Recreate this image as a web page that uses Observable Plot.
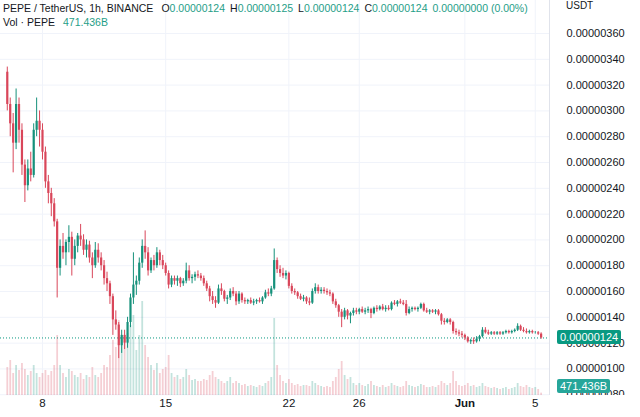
<!DOCTYPE html>
<html><head><meta charset="utf-8">
<script src="https://cdn.jsdelivr.net/npm/d3@7"></script>
<script src="https://cdn.jsdelivr.net/npm/@observablehq/plot@0.6"></script>
<style>
body{margin:0;background:#fff;}
#wrap{position:relative;width:640px;height:417px;overflow:hidden;font-family:"Liberation Sans",Arial,sans-serif;color:#131722;}
#legend{position:absolute;left:3px;top:1px;font-size:10.5px;line-height:14px;white-space:nowrap;}
#legend .g{margin-left:5px}
#legend .s{margin-left:8px}
.v{color:#1f9e88}
.tag{position:absolute;color:#fff;font-size:11px;padding:0 3px;border-radius:2px;}
#usdt{position:absolute;left:566px;top:0px;font-size:10px;line-height:11px;}
#cover{position:absolute;left:550px;top:395px;width:90px;height:22px;background:#fff;}
</style></head><body>
<div id="wrap"><div id="chart"></div>
<div id="legend"></div>
<div id="usdt">USDT</div>
<div id="cover"></div>
</div>
<script>
// ---- data (prices in units of 1e-8 USDT, 4-hour candles starting 2023-05-06 00:00 UTC) ----
const startTime = "2023-05-06T00:00:00Z";
const opens = [330,305,290,275,305,285, 258,242,255,250,285,292, 285,268,245,236,228,214, 178,195,190,198,202,185, 195,203,200,192,196,186, 180,192,186,180,170,166,
 156,138,134,118,126,120, 136,155,165,168,182,195, 190,176,184,180,190,184, 180,174,165,170,168,170, 166,168,176,170,171,173, 172,170,166,162,156,153,
 151,162,160,154,155,160, 158,152,158,153,152,153, 151,152,153,152,155,159, 158,162,184,177,174,172, 174,164,160,159,156,154, 155,152,151,160,163,160,
 161,160,159,158,152,149, 144,140,145,141,143,145, 144,146,144,145,146,143, 147,146,148,146,147,146, 151,150,152,151,150,143, 146,147,146,147,150,145,
 144,145,144,145,142,137, 136,138,136,129,128,127, 126,124,121,122,121,123, 125,130,128,127,128,127, 128,127,128,129,128,129, 130,133,130,129,128,129, 128,128,127];
const highs = [334,310,298,317,310,290, 262,262,268,290,310,300, 290,272,250,240,232,216, 200,205,200,211,206,200, 205,212,204,200,199,190, 198,197,190,184,175,168,
 158,145,136,130,130,140, 158,190,172,186,200,207, 194,186,188,194,192,188, 182,176,172,172,172,171, 170,182,180,173,175,176, 174,172,168,164,160,156,
 165,166,161,157,162,163, 160,160,159,155,154,155, 154,154,155,156,161,162, 164,193,186,180,178,176, 175,166,162,160,158,157, 156,155,162,166,165,163,
 163,162,161,159,154,150, 146,147,146,144,147,147, 147,148,147,148,147,148, 149,149,150,149,149,152, 153,153,154,153,153,148, 148,148,148,151,151,147,
 146,146,146,146,143,139, 139,139,137,131,130,129, 127,125,123,124,125,126, 132,132,130,129,129,129, 129,129,130,130,130,131, 135,134,132,131,130,130, 129,129,128];
const lows = [300,280,252,270,275,250, 229,238,245,248,280,272, 262,240,228,218,210,155, 172,185,180,190,172,180, 190,195,188,186,182,170, 178,182,176,165,160,150,
 126,130,108,112,115,116, 132,150,157,165,178,185, 172,174,176,178,180,177, 172,162,163,165,164,163, 164,166,168,166,168,170, 168,164,160,152,150,147,
 150,157,152,150,153,156, 149,150,151,150,150,150, 149,150,151,150,154,156, 156,161,174,171,170,169, 162,158,157,154,153,152, 150,149,150,158,158,158,
 158,157,156,150,147,140, 132,138,138,135,141,142, 142,143,142,143,139,142, 144,145,145,144,145,145, 149,148,150,149,141,142, 144,145,144,146,144,143,
 142,143,142,141,134,134, 135,134,127,126,125,124, 122,120,119,119,120,121, 124,127,126,126,126,126, 126,126,127,127,127,128, 129,129,128,127,127,127, 127,126,123];
const closes = [305,290,275,305,285,258, 242,255,250,285,292,285, 268,245,236,228,214,178, 195,190,198,202,185,195, 203,200,192,196,186,180, 192,186,180,170,166,156,
 138,134,118,126,120,136, 155,165,168,182,195,190, 176,184,180,190,184,180, 174,165,170,168,170,166, 168,176,170,171,173,172, 170,166,162,156,153,151,
 162,160,154,155,160,158, 152,158,153,152,153,151, 152,153,152,155,159,158, 162,184,177,174,172,174, 164,160,159,156,154,155, 152,151,160,163,160,161,
 160,159,158,152,149,144, 140,145,141,143,145,144, 146,144,145,146,143,147, 146,148,146,147,146,151, 150,152,151,150,143,146, 147,146,147,150,145,144,
 145,144,145,142,137,136, 138,136,129,128,127,126, 124,121,122,121,123,125, 130,128,127,128,127,128, 127,128,129,128,129,130, 133,130,129,128,129,128, 128,127,124];
// volume in billions of PEPE
const volumes = [5600,7000,4400,6000,5000,6400, 5200,4000,4800,6000,4400,3600, 4400,5000,4000,4800,6000,12000, 6000,4400,3600,5200,4800,4000, 3600,4400,3200,4000,3600,5600, 4000,3600,4400,6000,5600,8000,
 11000,9600,15000,10000,11600,12400, 14000,16000,9000,12000,18800,10000, 7600,6000,5000,6400,4400,5200, 5600,8000,4400,3600,4000,3200, 3600,5200,4000,3000,3200,2800, 2800,3200,3000,4000,4800,3600,
 3200,2800,2400,2800,3600,2400, 2800,2400,2000,2200,1800,2000, 1800,1600,2000,1800,2400,2800, 3600,15400,6000,4000,2800,2400, 3200,2400,2000,2200,1800,2000, 2000,1800,2800,2400,2000,1800,
 1600,1800,1600,2800,3600,5200, 6800,4000,3200,3600,2400,2000, 2400,2000,1800,2200,2800,2000, 1800,1600,2000,1600,1800,2400, 2000,1800,1600,1800,2800,2000, 1800,1600,1800,2200,2000,1600,
 1600,1800,1600,2000,2800,2400, 2000,2400,4800,2800,2000,1800, 2000,2400,1800,2000,1600,1800, 2400,1800,1600,1400,1600,1400, 1200,1400,1600,1200,1400,1600, 2400,1800,1600,2000,1600,1400, 1600,1200,471.436];
const priceTicks = [80,100,120,140,160,180,200,220,240,260,280,300,320,340,360];
const dayTicks = ["2023-05-08","2023-05-15","2023-05-22","2023-05-26","2023-06-05"];
const dayLabels = ["8","15","22","26","5"];
const monthTicks = ["2023-06-01"];
const monthLabels = ["Jun"];
const header = {symbol:"PEPE / TetherUS, 1h, BINANCE", O:"0.00000124", H:"0.00000125", L:"0.00000124", C:"0.00000124", chg:"0.00000000 (0.00%)", volName:"Vol · PEPE", vol:"471.436B"};

// ---- build table ----
const E = 1e-8, H4 = 4*3600*1000, t0 = new Date(startTime).getTime();
const data = closes.map((c,i)=>({t:new Date(t0+i*H4), o:opens[i]*E, h:highs[i]*E, l:lows[i]*E, c:c*E, v:volumes[i], up:c>=opens[i]}));
const UP="#16917b", DOWN="#d9465a";
const yLo = 79.4*E, yHi = 385.6*E;
const volK = (77.52*E)/20000;  // volume pane scaling into price units
const last = data[data.length-1];

const chart = Plot.plot({
  width:640, height:417, marginLeft:0, marginRight:91, marginTop:0, marginBottom:22,
  style:{fontFamily:'"Liberation Sans",Arial,sans-serif', fontSize:"11px", color:"#131722", background:"#fff"},
  x:{type:"utc", domain:[new Date("2023-05-05T14:44:00Z"), new Date("2023-06-05T19:26:00Z")], axis:null},
  y:{domain:[yLo,yHi], axis:null},
  marks:[
    Plot.ruleY(priceTicks.map(p=>p*E), {stroke:"#f0f3fa", strokeWidth:1}),
    Plot.ruleX([...dayTicks,...monthTicks].map(d=>new Date(d+"T00:00:00Z")), {stroke:"#f0f3fa", strokeWidth:1}),
    Plot.ruleX(data.filter(d=>d.up), {x:"t", y1:yLo, y2:d=>yLo+d.v*volK, stroke:UP, strokeOpacity:0.26, strokeWidth:1.8}),
    Plot.ruleX(data.filter(d=>!d.up), {x:"t", y1:yLo, y2:d=>yLo+d.v*volK, stroke:DOWN, strokeOpacity:0.26, strokeWidth:1.8}),
    Plot.ruleY([last.c], {stroke:"#089981", strokeDasharray:"1,2", strokeWidth:1}),
    Plot.ruleX(data.filter(d=>d.up), {x:"t", y1:"l", y2:"h", stroke:UP, strokeWidth:1}),
    Plot.ruleX(data.filter(d=>!d.up), {x:"t", y1:"l", y2:"h", stroke:DOWN, strokeWidth:1}),
    Plot.ruleX(data.filter(d=>d.up), {x:"t", y1:"o", y2:"c", stroke:UP, strokeWidth:2.2}),
    Plot.ruleX(data.filter(d=>!d.up), {x:"t", y1:"o", y2:"c", stroke:DOWN, strokeWidth:2.2}),
    Plot.ruleX([new Date("2023-06-05T19:26:00Z")], {stroke:"#e0e3eb"}),
    Plot.axisY(priceTicks.map(p=>p*E), {anchor:"right", tickSize:0, tickPadding:17, textAnchor:"start", tickFormat:d3.format(".8f"), fontSize:11, fill:"#131722"}),
    Plot.text(dayTicks, {x:d=>new Date(d+"T00:00:00Z"), text:(d,i)=>dayLabels[i], frameAnchor:"bottom", dy:11, fontSize:11.5, fill:"#131722"}),
    Plot.text(monthTicks, {x:d=>new Date(d+"T00:00:00Z"), text:(d,i)=>monthLabels[i], frameAnchor:"bottom", dy:11, fontSize:11.5, fontWeight:"bold", fill:"#131722"})
  ]
});
document.getElementById("chart").appendChild(chart);

// legend overlay
document.getElementById("legend").innerHTML =
  `<div>${header.symbol}<span class="s">O</span><span class="v">${header.O}</span><span class="g">H</span><span class="v">${header.H}</span><span class="g">L</span><span class="v">${header.L}</span><span class="g">C</span><span class="v">${header.C}</span><span class="g v">${header.chg}</span></div>` +
  `<div>${header.volName}<span class="s v">${header.vol}</span></div>`;

// price tags on the right axis, positioned with the chart's own scale
const ys = chart.scale("y");
const wrap = document.getElementById("wrap");
function tag(text, yc, bg){
  const el = document.createElement("div");
  el.className="tag"; el.textContent=text; el.style.background=bg;
  el.style.left="557px"; el.style.top=(yc-7)+"px"; el.style.height="14px"; el.style.lineHeight="14px";
  wrap.appendChild(el);
}
tag(d3.format(".8f")(last.c), ys.apply(last.c), "#089981");
tag(header.vol, Math.min(ys.apply(yLo+last.v*volK), ys.apply(yLo)-9), "#26a69a");
</script>
</body></html>
